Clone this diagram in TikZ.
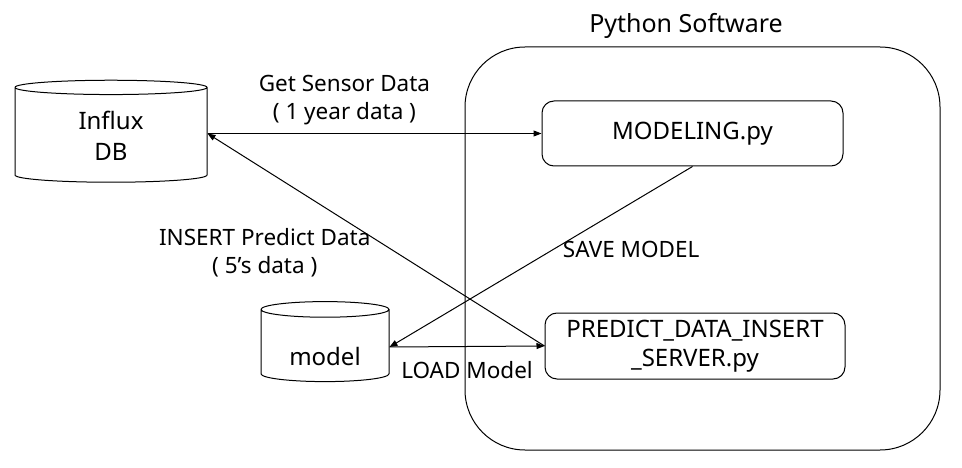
\documentclass[tikz,border=0pt]{standalone}
\usepackage{fontspec}
\setmainfont{Noto Sans}
\usetikzlibrary{arrows.meta}
\usetikzlibrary{shapes.geometric}

\begin{document}
\begin{tikzpicture}[x=1pt,y=-1pt,line width=1pt,
    every node/.style={align=center,font=\fontsize{22.5}{28}\selectfont},
    db/.style={cylinder,shape border rotate=90,draw,aspect=0.2,
      font=\fontsize{24}{31}\selectfont},
    prog/.style={rectangle,rounded corners=12pt,draw,
      font=\fontsize{24}{29}\selectfont},
    arr/.style={-{Triangle[length=8pt,width=6pt]}}]
                \useasboundingbox (0,0) rectangle (962,468);
                \node[draw,rounded corners=60pt,minimum width=475,minimum height=403] (sw) at (702.5,248.5) {};
                \node[font=\fontsize{25}{30}\selectfont] (swname) at (686,26) {Python Software};
                \node[db,minimum width=192,minimum height=102] (Influx) at (111,136) {Influx\\DB};
                \node[db,minimum width=128,minimum height=80] (model) at (325,347) {\raisebox{-18pt}[0pt][0pt]{model}};
                \node[prog,minimum width=301,minimum height=65] (M) at (692.5,133.5) {MODELING.py};
                \node[prog,minimum width=300,minimum height=66] (P) at (695,346) {PREDICT\_DATA\_INSERT\\\_SERVER.py};
                \draw[arr] (Influx.east |- M.west) to node[pos=0.41,above=5pt] (get) {Get Sensor Data\\( 1 year data )} (M.west);
                \draw[arr] (P.west) to node[pos=0.44,left=22pt] (ins) {INSERT Predict Data\\( 5’s data )} (Influx.east |- M.west);
                \draw[arr] (M.south) to node[pos=0.46,right=6pt] (save) {SAVE MODEL} (model.east);
                \draw[arr] (model.east) to node[below=11pt] (load) {LOAD Model} (P.west);
            \end{tikzpicture}
\end{document}
